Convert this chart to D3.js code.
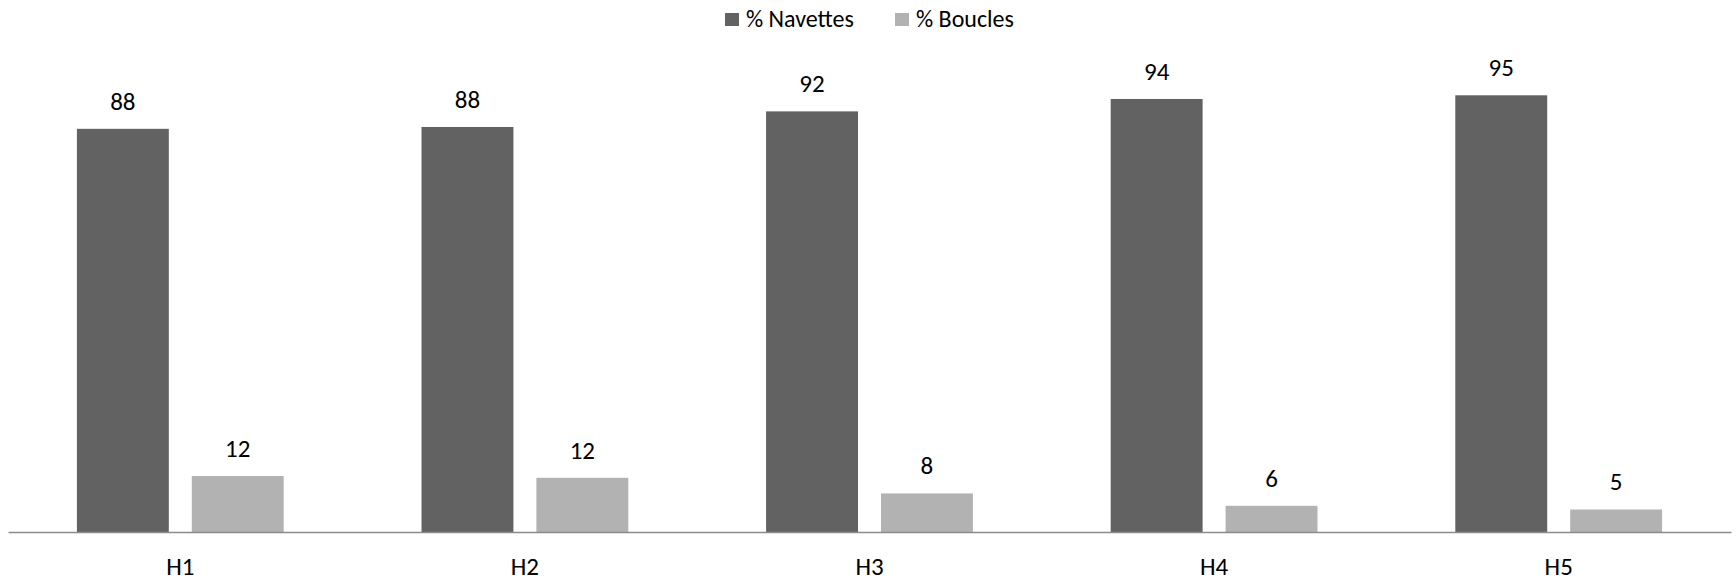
<!DOCTYPE html>
<html>
  <head>
    <meta charset="utf-8">
    <title>Navettes / Boucles</title>
    <script src="https://cdn.jsdelivr.net/npm/d3@7"></script>
    <style>
      body { margin: 0; background: #fff; }
      svg text { font-family: Carlito, Calibri, Lato, "Open Sans", sans-serif; fill: #000; }
    </style>
  </head>
  <body>
    <div id="graph"></div>
    <script>

    // data
    var categories = ["H1", "H2", "H3", "H4", "H5"];
    var navettes = [87.8, 88.2, 91.6, 94.3, 95.1];
    var boucles = [12.2, 11.8, 8.4, 5.7, 4.9];
    var seriesNames = ["% Navettes", "% Boucles"];
    var seriesColors = ["#626262", "#b2b2b2"];

    function render() {
      var width = 1736;
      var height = 581;
      var left = 8, right = 1731, baseY = 532, topY = 72.8;

      var svg = d3.select('#graph').html('')
                .append('svg')
                .attr("width", width)
                .attr("height", height);

      var xScale = d3.scaleBand()
                    .domain(categories)
                    .range([left, right])
                    .paddingInner(0)
                    .paddingOuter(0);

      var inner = d3.scaleBand()
                    .domain([0, 1])
                    .range([68.9, xScale.bandwidth() - 68.9])
                    .paddingInner(0.2)
                    .paddingOuter(0);

      var yScale = d3.scaleLinear()
                    .domain([0, 100])
                    .range([baseY, topY]);

      var rows = categories.map(function(c, i) {
        return { cat: c, vals: [navettes[i], boucles[i]] };
      });

      var groups = svg.selectAll('.grp')
                .data(rows)
                .enter()
                .append('g')
                .attr("class", "grp")
                .attr("transform", function(d) { return "translate(" + xScale(d.cat) + ",0)"; });

      var bars = groups.selectAll('.bar')
                .data(function(d) { return d.vals.map(function(v, k) { return { k: k, v: v }; }); })
                .enter();

      bars.append('rect')
          .attr("class", "bar")
          .attr("x", function(d) { return inner(d.k); })
          .attr("y", function(d) { return yScale(d.v); })
          .attr("width", inner.bandwidth())
          .attr("height", function(d) { return baseY - yScale(d.v); })
          .attr("fill", function(d) { return seriesColors[d.k]; });

      bars.append('text')
          .attr("x", function(d) { return inner(d.k) + inner.bandwidth() / 2; })
          .attr("y", function(d) { return yScale(d.v) - 19; })
          .attr("text-anchor", "middle")
          .style("font-size", "25px")
          .text(function(d) { return Math.round(d.v); });

      // axis
      var xAxis = d3.axisBottom(xScale).tickSize(0).tickPadding(24);
      var ax = svg.append('g')
          .attr("transform", "translate(0," + baseY + ")")
          .call(xAxis);
      ax.select('.domain').attr("stroke", "#8c8c8c").attr("stroke-width", 1.5);
      ax.selectAll('text')
          .style("font-size", "25px")
          .attr("dy", "0.75em");

      // legend
      var legX = [725, 895];
      var leg = svg.selectAll('.leg')
          .data(seriesNames)
          .enter()
          .append('g')
          .attr("class", "leg")
          .attr("transform", function(d, i) { return "translate(" + legX[i] + ",13)"; });
      leg.append('rect')
          .attr("width", 14)
          .attr("height", 13)
          .attr("fill", function(d, i) { return seriesColors[i]; });
      leg.append('text')
          .attr("x", 21)
          .attr("y", 13.5)
          .style("font-size", "24px")
          .text(function(d) { return d; });
    }
    render();

    </script>
  </body>
</html>
